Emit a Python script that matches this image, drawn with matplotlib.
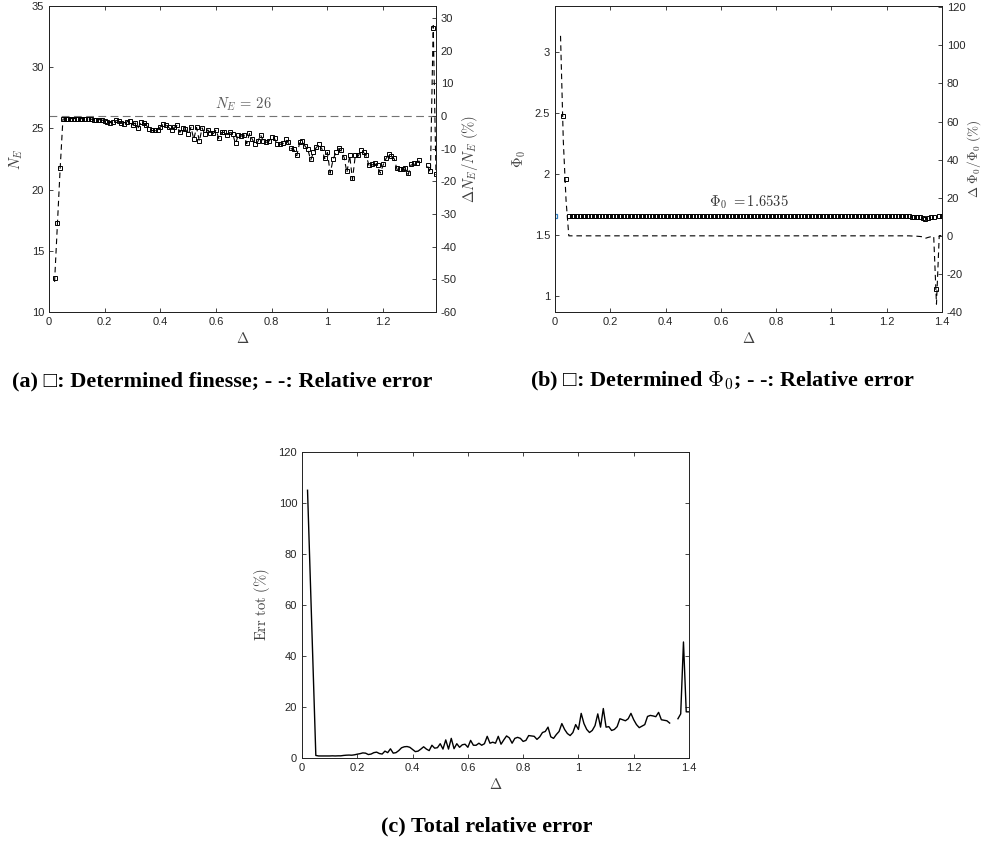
#!/usr/bin/env python3
"""
Finesse / Phi_0 fit quality vs Delta, three panels (a), (b), (c)
"""

import numpy as np
import matplotlib
matplotlib.use('Agg')
import matplotlib.pyplot as plt

# --------------------------------------------------
# data, Delta grid 0.02 .. 1.40 step 0.01
delta = np.arange(2, 141) / 100.0

N_REF = 26.0
PHI_REF = 1.6535

# determined finesse N_E (nan = no point)
n_e = [
    12.8, 17.3, 21.8, 25.75, 25.8, 25.8, 25.8, 25.8,               # 0.02-0.09
    25.8, 25.78, 25.8, 25.78, 25.78, 25.75, 25.72, 25.7, 25.72, 25.68,  # 0.10
    25.62, 25.55, 25.48, 25.5, 25.65, 25.6, 25.45, 25.4, 25.55, 25.6,   # 0.20
    25.3, 25.45, 25.07, 25.5, 25.45, 25.25, 24.95, 24.85, 24.83, 24.9,  # 0.30
    25.13, 25.35, 25.3, 25.1, 24.85, 25.1, 25.25, 24.7, 25.0, 24.95,    # 0.40
    24.55, 25.1, 24.15, 25.1, 24.0, 25.05, 24.55, 24.9, 24.65, 24.6,    # 0.50
    24.9, 24.2, 24.7, 24.7, 24.5, 24.7, 24.55, 23.8, 24.5, 24.4,        # 0.60
    24.5, 23.8, 24.6, 24.15, 23.75, 23.95, 24.5, 24.0, 23.9, 24.0,      # 0.70
    24.3, 24.2, 23.7, 23.75, 23.8, 24.1, 23.85, 23.4, 23.3, 22.85,      # 0.80
    23.85, 24.0, 23.6, 23.3, 22.5, 23.1, 23.5, 23.7, 23.4, 22.6,        # 0.90
    23.1, 21.45, 22.5, 23.1, 23.4, 23.2, 22.7, 21.5, 22.85, 20.95,      # 1.00
    22.85, 22.8, 23.2, 23.1, 22.8, 22.0, 22.1, 22.2, 22.0, 21.45,       # 1.10
    22.1, 22.6, 22.9, 22.75, 22.6, 21.75, 21.65, 21.7, 21.8, 21.35,     # 1.20
    22.1, 22.15, 22.2, 22.45, np.nan, np.nan, 22.0, 21.5, 33.2, 21.3,   # 1.30
    np.nan,                                                             # 1.40
]

# determined Phi_0
phi0 = [
    3.39, 2.48, 1.96, 1.6535, 1.6535, 1.6535, 1.6535, 1.6535,                  # 0.02
    1.6535, 1.6535, 1.6535, 1.6535, 1.6535, 1.6535, 1.6535, 1.6535, 1.6535, 1.6535,
    1.6535, 1.6535, 1.6535, 1.6535, 1.6535, 1.6535, 1.6535, 1.6535, 1.6535, 1.6535,
    1.6535, 1.6535, 1.6535, 1.6535, 1.6535, 1.6535, 1.6535, 1.6535, 1.6535, 1.6535,
    1.6535, 1.6535, 1.6535, 1.6535, 1.6535, 1.6535, 1.6535, 1.6535, 1.6535, 1.6535,
    1.6535, 1.6535, 1.6535, 1.6535, 1.6535, 1.6535, 1.6535, 1.6535, 1.6535, 1.6535,
    1.6535, 1.6535, 1.6535, 1.6535, 1.6535, 1.6535, 1.6535, 1.6535, 1.6535, 1.6535,
    1.6535, 1.6535, 1.6535, 1.6535, 1.6535, 1.6535, 1.6535, 1.6535, 1.6535, 1.6535,
    1.6535, 1.6535, 1.6535, 1.6535, 1.6535, 1.6535, 1.6535, 1.6535, 1.6535, 1.6535,
    1.6535, 1.6535, 1.6535, 1.6535, 1.6535, 1.6535, 1.6535, 1.6535, 1.6535, 1.6535,
    1.6535, 1.6535, 1.6535, 1.6535, 1.6535, 1.6535, 1.6535, 1.6535, 1.6535, 1.6535,
    1.6535, 1.6535, 1.6535, 1.6535, 1.6535, 1.6535, 1.6535, 1.6535, 1.6535, 1.6535,
    1.6535, 1.6535, 1.6535, 1.6535, 1.6535, 1.6535, 1.6535, 1.6535, 1.6535, 1.652,
    1.652, 1.650, 1.648, 1.645, 1.632, 1.640, 1.646, 1.650, 1.06, 1.655,       # 1.30
    1.656,                                                                     # 1.40
]

# total relative error (%)
err_tot = [
    105.0, 70.0, 36.0, 1.0, 0.8, 0.8, 0.8, 0.8,                    # 0.02
    0.8, 0.85, 0.8, 0.85, 0.85, 1.0, 1.1, 1.15, 1.1, 1.25,         # 0.10
    1.5, 1.7, 2.0, 1.9, 1.35, 1.55, 2.1, 2.3, 1.75, 1.55,          # 0.20
    2.7, 2.1, 3.6, 1.9, 2.1, 2.9, 4.0, 4.4, 4.5, 4.2,              # 0.30
    3.35, 2.5, 2.7, 3.5, 4.4, 3.5, 2.9, 5.0, 3.85, 4.05,           # 0.40
    5.6, 3.5, 7.1, 3.5, 7.7, 3.65, 5.6, 4.2, 5.2, 5.4,             # 0.50
    4.2, 6.9, 5.0, 5.0, 5.8, 5.0, 5.6, 8.5, 5.8, 6.2,              # 0.60
    5.8, 8.5, 5.4, 7.1, 8.65, 7.9, 5.8, 7.7, 8.1, 7.7,             # 0.70
    6.5, 6.9, 8.8, 8.65, 8.5, 7.3, 8.3, 10.0, 10.4, 12.1,          # 0.80
    8.3, 7.7, 9.2, 10.4, 13.5, 11.2, 9.6, 8.8, 10.0, 13.1,         # 0.90
    11.2, 17.5, 13.5, 11.2, 10.0, 10.8, 12.7, 17.3, 12.1, 19.4,    # 1.00
    12.1, 12.3, 10.8, 11.2, 12.3, 15.4, 15.0, 14.6, 15.4, 17.5,    # 1.10
    15.0, 13.1, 11.9, 12.5, 13.1, 16.3, 16.7, 16.5, 16.2, 17.9,    # 1.20
    15.0, 14.8, 14.6, 13.7, np.nan, np.nan, 15.4, 17.3, 45.5, 18.1,  # 1.30
    18.1,                                                          # 1.40
]

n_e = np.array(n_e)
phi0 = np.array(phi0)
err_tot = np.array(err_tot)

# relative errors shown on the right axes
n_err = (n_e - N_REF) / N_REF * 100
phi_err = (phi0 - PHI_REF) / PHI_REF * 100

# --------------------------------------------------
plt.rcParams['mathtext.fontset'] = 'cm'
plt.rcParams['font.family'] = ['Liberation Sans', 'DejaVu Sans']
plt.rcParams['axes.unicode_minus'] = False

TICK = '#262626'
LAB = '#404040'
CAP_FONT = ['Liberation Serif', 'DejaVu Sans']
W, H = 986.0, 843.0


def box(l, r, t, b):
    """pixel box -> figure rect"""
    return [l / W, 1 - b / H, (r - l) / W, (b - t) / H]


def style(ax, right=True, top=True):
    ax.tick_params(direction='in', length=3, width=0.6, labelsize=8,
                   colors=TICK, top=top, right=right)
    for s in ax.spines.values():
        s.set_linewidth(0.7)
        s.set_color('#222222')


fig = plt.figure(figsize=(9.86, 8.43), dpi=100)

# ---------------- (a)
ax = fig.add_axes(box(49, 436, 6, 312))
ax.axhline(N_REF, color='0.45', lw=0.8, dashes=(7, 4))
ax.plot(delta, n_e, 's', mfc='none', mec='k', ms=3.4, mew=0.7)
ax.set_xlim(0, 1.39)
ax.set_ylim(10, 35)
ax.set_xticks(np.arange(0, 1.21, 0.2))
ax.set_xticklabels(['0', '0.2', '0.4', '0.6', '0.8', '1', '1.2'])
ax.set_yticks(np.arange(10, 36, 5))
style(ax, right=False)
ax.set_xlabel(r'$\Delta$', fontsize=10.5, color=LAB, labelpad=3)
ax.set_ylabel(r'$N_E$', fontsize=10.5, color=LAB, labelpad=5)
ax.text(0.70, 26.25, r'$N_E\,=\,26$', fontsize=10.5, color='0.35',
        ha='center', va='bottom')

ax2 = ax.twinx()
ax2.plot(delta, n_err, color='k', lw=0.8, dashes=(5, 3.5))
ax2.set_ylim(-60, 33.7)
ax2.set_yticks(np.arange(-60, 31, 10))
style(ax2, top=False)
ax2.tick_params(left=False)
ax2.set_ylabel(r'$\Delta N_E/N_E\ (\%)$', fontsize=10.5, color=LAB,
               labelpad=2)

# ---------------- (b)
bx = fig.add_axes(box(555, 942, 6, 312))
phi_show = np.ma.masked_greater(phi0, 3.38)
bx.plot(delta, phi_show, 's', mfc='none', mec='k', ms=3.4, mew=0.7)
bx.plot([0], [PHI_REF], 's', mfc='none', mec='#2f7fc1', ms=3.5, mew=0.9)
bx.set_xlim(0, 1.4)
bx.set_ylim(0.87, 3.38)
bx.set_xticks(np.arange(0, 1.41, 0.2))
bx.set_xticklabels(['0', '0.2', '0.4', '0.6', '0.8', '1', '1.2', '1.4'])
bx.set_yticks([1, 1.5, 2, 2.5, 3])
bx.set_yticklabels(['1', '1.5', '2', '2.5', '3'])
style(bx, right=False)
bx.set_xlabel(r'$\Delta$', fontsize=10.5, color=LAB, labelpad=3)
bx.set_ylabel(r'$\Phi_0$', fontsize=10.5, color=LAB, labelpad=5)
bx.text(0.70, 1.70, r'$\Phi_0\ {=}1.6535$', fontsize=10.5, color='0.2',
        ha='center', va='bottom')

bx2 = bx.twinx()
bx2.plot(delta, phi_err, color='k', lw=0.8, dashes=(5, 3.5))
bx2.set_ylim(-40, 120.7)
bx2.set_yticks(np.arange(-40, 121, 20))
style(bx2, top=False)
bx2.tick_params(left=False)
bx2.set_ylabel(r'$\Delta\ \Phi_0/\Phi_0\ (\%)$', fontsize=9.5, color=LAB,
               labelpad=0)

# ---------------- (c)
cx = fig.add_axes(box(302, 689, 452, 758))
cx.plot(delta, err_tot, color='k', lw=1.0)
cx.set_xlim(0, 1.4)
cx.set_ylim(0, 120)
cx.set_xticks(np.arange(0, 1.41, 0.2))
cx.set_xticklabels(['0', '0.2', '0.4', '0.6', '0.8', '1', '1.2', '1.4'])
cx.set_yticks(np.arange(0, 121, 20))
style(cx)
cx.set_xlabel(r'$\Delta$', fontsize=10.5, color=LAB, labelpad=3)
cx.set_ylabel(r'$\mathrm{Err\ tot\ (\%)}$', fontsize=10.5, color=LAB,
              labelpad=5)

# ---------------- captions
fig.text(222 / W, 1 - 381 / H,
         '(a) \u25a1: Determined finesse; - -: Relative error',
         ha='center', va='center', fontsize=16, fontweight='bold',
         family=CAP_FONT)
fig.text(723 / W, 1 - 381 / H,
         '(b) \u25a1: Determined $\\Phi_0$; - -: Relative error',
         ha='center', va='center', fontsize=16, fontweight='bold',
         family=CAP_FONT)
fig.text(487 / W, 1 - 826 / H, '(c) Total relative error',
         ha='center', va='center', fontsize=16, fontweight='bold',
         family=CAP_FONT)

fig.savefig('out.png', dpi=100)
